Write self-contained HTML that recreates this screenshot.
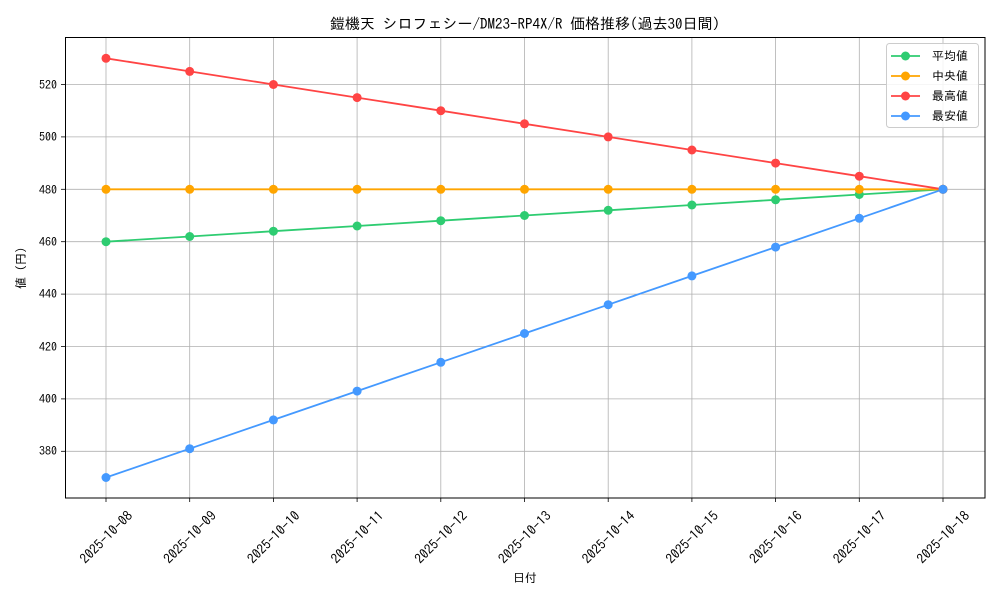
<!DOCTYPE html>
<html><head><meta charset="utf-8"><style>
body{margin:0;background:#fff}
svg{display:block;font-family:"IPAGothic","Liberation Sans","Noto Sans CJK JP",sans-serif}
</style></head><body>
<svg width="1000" height="600" xmlns="http://www.w3.org/2000/svg">
<rect width="1000" height="600" fill="#fff"/>
<g stroke="#b0b0b0" stroke-width="0.8">
<line x1="106" y1="37" x2="106" y2="498"/><line x1="189.7" y1="37" x2="189.7" y2="498"/><line x1="273.4" y1="37" x2="273.4" y2="498"/><line x1="357.1" y1="37" x2="357.1" y2="498"/><line x1="440.8" y1="37" x2="440.8" y2="498"/><line x1="524.5" y1="37" x2="524.5" y2="498"/><line x1="608.2" y1="37" x2="608.2" y2="498"/><line x1="691.9" y1="37" x2="691.9" y2="498"/><line x1="775.6" y1="37" x2="775.6" y2="498"/><line x1="859.3" y1="37" x2="859.3" y2="498"/><line x1="943" y1="37" x2="943" y2="498"/>
<line x1="65" y1="84.5" x2="985" y2="84.5"/><line x1="65" y1="136.9" x2="985" y2="136.9"/><line x1="65" y1="189.3" x2="985" y2="189.3"/><line x1="65" y1="241.7" x2="985" y2="241.7"/><line x1="65" y1="294.1" x2="985" y2="294.1"/><line x1="65" y1="346.5" x2="985" y2="346.5"/><line x1="65" y1="398.9" x2="985" y2="398.9"/><line x1="65" y1="451.3" x2="985" y2="451.3"/>
</g>
<rect x="65.5" y="37.5" width="919.5" height="460.5" fill="none" stroke="#000" stroke-width="1"/>
<g stroke="#000" stroke-width="0.8">
<line x1="61" y1="84.5" x2="65" y2="84.5"/><line x1="61" y1="136.9" x2="65" y2="136.9"/><line x1="61" y1="189.3" x2="65" y2="189.3"/><line x1="61" y1="241.7" x2="65" y2="241.7"/><line x1="61" y1="294.1" x2="65" y2="294.1"/><line x1="61" y1="346.5" x2="65" y2="346.5"/><line x1="61" y1="398.9" x2="65" y2="398.9"/><line x1="61" y1="451.3" x2="65" y2="451.3"/>
<line x1="106" y1="498" x2="106" y2="502"/><line x1="189.7" y1="498" x2="189.7" y2="502"/><line x1="273.4" y1="498" x2="273.4" y2="502"/><line x1="357.1" y1="498" x2="357.1" y2="502"/><line x1="440.8" y1="498" x2="440.8" y2="502"/><line x1="524.5" y1="498" x2="524.5" y2="502"/><line x1="608.2" y1="498" x2="608.2" y2="502"/><line x1="691.9" y1="498" x2="691.9" y2="502"/><line x1="775.6" y1="498" x2="775.6" y2="502"/><line x1="859.3" y1="498" x2="859.3" y2="502"/><line x1="943" y1="498" x2="943" y2="502"/>
</g>
<g font-size="12" text-anchor="end" fill="#000">
<text x="57" y="89">520</text><text x="57" y="141">500</text><text x="57" y="194">480</text><text x="57" y="246">460</text><text x="57" y="298">440</text><text x="57" y="351">420</text><text x="57" y="403">400</text><text x="57" y="455">380</text>
</g>
<g font-size="13.5" text-anchor="middle" fill="#000">
<text transform="translate(106,537) rotate(-45)" dy="5">2025-10-08</text>
<text transform="translate(189.7,537) rotate(-45)" dy="5">2025-10-09</text>
<text transform="translate(273.4,537) rotate(-45)" dy="5">2025-10-10</text>
<text transform="translate(357.1,537) rotate(-45)" dy="5">2025-10-11</text>
<text transform="translate(440.8,537) rotate(-45)" dy="5">2025-10-12</text>
<text transform="translate(524.5,537) rotate(-45)" dy="5">2025-10-13</text>
<text transform="translate(608.2,537) rotate(-45)" dy="5">2025-10-14</text>
<text transform="translate(691.9,537) rotate(-45)" dy="5">2025-10-15</text>
<text transform="translate(775.6,537) rotate(-45)" dy="5">2025-10-16</text>
<text transform="translate(859.3,537) rotate(-45)" dy="5">2025-10-17</text>
<text transform="translate(943,537) rotate(-45)" dy="5">2025-10-18</text>
</g>
<text x="525" y="582" font-size="12" text-anchor="middle">日付</text>
<text transform="translate(25,268) rotate(-90)" font-size="12" text-anchor="middle">値 (円)</text>
<text x="525" y="29" font-size="15" text-anchor="middle">鎧機天 シロフェシー/DM23-RP4X/R 価格推移(過去30日間)</text>

<g fill="none" stroke-width="1.8">
<polyline stroke="#2ecc71" points="106,241.7 189.7,236.5 273.4,231.2 357.1,226 440.8,220.7 524.5,215.5 608.2,210.3 691.9,205 775.6,199.8 859.3,194.5 943,189.3"/>
<polyline stroke="#ffa500" points="106,189.3 943,189.3"/>
<polyline stroke="#ff4444" points="106,58.3 189.7,71.4 273.4,84.5 357.1,97.6 440.8,110.7 524.5,123.8 608.2,136.9 691.9,150 775.6,163.1 859.3,176.2 943,189.3"/>
<polyline stroke="#4499ff" points="106,477.5 189.7,448.7 273.4,419.9 357.1,391.1 440.8,362.3 524.5,333.5 608.2,304.7 691.9,275.9 775.6,247.1 859.3,218.3 943,189.3"/>
</g>
<g fill="#2ecc71"><circle cx="106" cy="241.7" r="4.5"/><circle cx="189.7" cy="236.5" r="4.5"/><circle cx="273.4" cy="231.2" r="4.5"/><circle cx="357.1" cy="226" r="4.5"/><circle cx="440.8" cy="220.7" r="4.5"/><circle cx="524.5" cy="215.5" r="4.5"/><circle cx="608.2" cy="210.3" r="4.5"/><circle cx="691.9" cy="205" r="4.5"/><circle cx="775.6" cy="199.8" r="4.5"/><circle cx="859.3" cy="194.5" r="4.5"/><circle cx="943" cy="189.3" r="4.5"/></g>
<g fill="#ffa500"><circle cx="106" cy="189.3" r="4.5"/><circle cx="189.7" cy="189.3" r="4.5"/><circle cx="273.4" cy="189.3" r="4.5"/><circle cx="357.1" cy="189.3" r="4.5"/><circle cx="440.8" cy="189.3" r="4.5"/><circle cx="524.5" cy="189.3" r="4.5"/><circle cx="608.2" cy="189.3" r="4.5"/><circle cx="691.9" cy="189.3" r="4.5"/><circle cx="775.6" cy="189.3" r="4.5"/><circle cx="859.3" cy="189.3" r="4.5"/><circle cx="943" cy="189.3" r="4.5"/></g>
<g fill="#ff4444"><circle cx="106" cy="58.3" r="4.5"/><circle cx="189.7" cy="71.4" r="4.5"/><circle cx="273.4" cy="84.5" r="4.5"/><circle cx="357.1" cy="97.6" r="4.5"/><circle cx="440.8" cy="110.7" r="4.5"/><circle cx="524.5" cy="123.8" r="4.5"/><circle cx="608.2" cy="136.9" r="4.5"/><circle cx="691.9" cy="150" r="4.5"/><circle cx="775.6" cy="163.1" r="4.5"/><circle cx="859.3" cy="176.2" r="4.5"/><circle cx="943" cy="189.3" r="4.5"/></g>
<g fill="#4499ff"><circle cx="106" cy="477.5" r="4.5"/><circle cx="189.7" cy="448.7" r="4.5"/><circle cx="273.4" cy="419.9" r="4.5"/><circle cx="357.1" cy="391.1" r="4.5"/><circle cx="440.8" cy="362.3" r="4.5"/><circle cx="524.5" cy="333.5" r="4.5"/><circle cx="608.2" cy="304.7" r="4.5"/><circle cx="691.9" cy="275.9" r="4.5"/><circle cx="775.6" cy="247.1" r="4.5"/><circle cx="859.3" cy="218.3" r="4.5"/><circle cx="943" cy="189.3" r="4.5"/></g>

<rect x="886.5" y="43.5" width="92" height="84" rx="3" fill="#fff" fill-opacity="0.85" stroke="#ccc"/>
<g stroke-width="1.8">
<line x1="891" y1="56" x2="920" y2="56" stroke="#2ecc71"/><circle cx="905.5" cy="56" r="4.5" fill="#2ecc71"/>
<line x1="891" y1="76" x2="920" y2="76" stroke="#ffa500"/><circle cx="905.5" cy="76" r="4.5" fill="#ffa500"/>
<line x1="891" y1="96" x2="920" y2="96" stroke="#ff4444"/><circle cx="905.5" cy="96" r="4.5" fill="#ff4444"/>
<line x1="891" y1="116" x2="920" y2="116" stroke="#4499ff"/><circle cx="905.5" cy="116" r="4.5" fill="#4499ff"/>
</g>
<g font-size="12">
<text x="932" y="60">平均値</text><text x="932" y="80"> 中央値</text><text x="932" y="100">最高値</text><text x="932" y="120">最安値</text>
</g>
</svg>
</body></html>
